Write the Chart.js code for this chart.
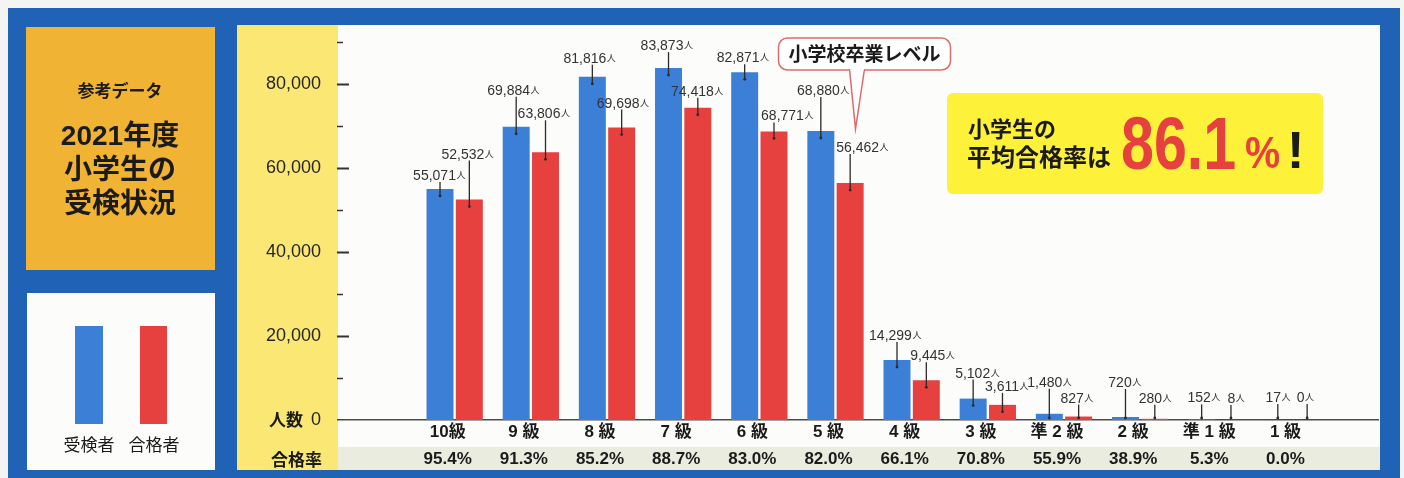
<!DOCTYPE html>
<html lang="ja">
<head>
<meta charset="utf-8">
<title>2021年度 小学生の受検状況</title>
<script src="https://cdn.jsdelivr.net/npm/chart.js@4.4.1/dist/chart.umd.min.js"></script>
<style>
  html, body { margin: 0; padding: 0; background: #f4f4f2; }
  #wrap { width: 1404px; height: 478px; }
</style>
</head>
<body>
<div id="wrap"><canvas id="chart"></canvas></div>
<script>
// --- データ ---
const grades = ['10級', '9 級', '8 級', '7 級', '6 級', '5 級', '4 級', '3 級', '準 2 級', '2 級', '準 1 級', '1 級'];
const examinees = [55071, 69884, 81816, 83873, 82871, 68880, 14299, 5102, 1480, 720, 152, 17];
const passed = [52532, 63806, 69698, 74418, 68771, 56462, 9445, 3611, 827, 280, 8, 0];
const passRates = [95.4, 91.3, 85.2, 88.7, 83.0, 82.0, 66.1, 70.8, 55.9, 38.9, 5.3, 0.0];
const yTickValues = [0, 10000, 20000, 30000, 40000, 50000, 60000, 70000, 80000, 90000];
const averageRate = 86.1;

// 数値ラベルの配置 (棒の上端からの高さ px / 横ずれ px)
const blueLabelLift = [9, 32, 14, 18, 10, 36, 20, 21, 27, 30, 17, 18];
const blueLabelShift = [-1, -3, -3, -2, -2, 2, -2, 4, 0, -1, 2, 0];
const redLabelLift = [41, 34, 20, 12, 11, 31, 20, 14, 14, 16, 17, 18];
const redLabelShift = [-2, -2, 1, -1, 13, 12, 6, 4, -2, 0, 5, -2];

const FONT = "'Liberation Sans', 'Noto Sans CJK JP', sans-serif";
const JP = "'Noto Sans CJK JP', sans-serif";
const BLUE = '#3c7fd6';
const RED = '#e6403f';
const FRAME = '#1f62b6';

// 背景・枠・左側パネル
const backdrop = {
    id: 'backdrop',
    beforeDraw(chart) {
        const { ctx, chartArea: area } = chart;
        ctx.save();
        ctx.fillStyle = '#f4f4f2';
        ctx.fillRect(0, 0, chart.width, chart.height);
        ctx.fillStyle = FRAME;
        ctx.fillRect(8, 8, 1392, 470);
        // 参考データ
        ctx.fillStyle = '#f1b334';
        ctx.fillRect(26, 27, 189, 243);
        // 凡例
        ctx.fillStyle = '#fcfcfa';
        ctx.fillRect(27, 293, 188, 177);
        // グラフ面
        ctx.fillRect(237, 25, 1143, 445);
        ctx.fillStyle = '#fbe874';
        ctx.fillRect(237, 25, area.left - 237, 445);
        ctx.fillStyle = '#e9ecdf';
        ctx.fillRect(area.left, 447, 1380 - area.left, 23);

        ctx.fillStyle = '#1b1b1b';
        ctx.textAlign = 'center';
        ctx.textBaseline = 'middle';
        ctx.font = `bold 17px ${JP}`;
        ctx.fillText('参考データ', 120, 91);
        ctx.font = `bold 28px ${FONT}`;
        ctx.fillText('2021年度', 120, 137);
        ctx.fillText('小学生の', 120, 171);
        ctx.fillText('受検状況', 120, 205);

        // 凡例
        ctx.fillStyle = BLUE;
        ctx.fillRect(75, 326, 28, 98);
        ctx.fillStyle = RED;
        ctx.fillRect(140, 326, 27, 98);
        ctx.fillStyle = '#1b1b1b';
        ctx.font = `17px ${JP}`;
        ctx.fillText(chart.data.datasets[0].label, 89, 445);
        ctx.fillText(chart.data.datasets[1].label, 154, 445);
        ctx.restore();
    }
};

// 目盛り・数値ラベル・吹き出し
const notes = {
    id: 'notes',
    afterDatasetsDraw(chart) {
        const { ctx, scales: { x, y } } = chart;
        const base = y.getPixelForValue(0);
        ctx.save();

        // y 軸の目盛り線
        ctx.strokeStyle = '#333';
        y.ticks.forEach(t => {
            if (t.value <= 0) return;
            const py = Math.round(y.getPixelForValue(t.value)) + 0.5;
            const major = t.value % 20000 === 0;
            ctx.lineWidth = major ? 2 : 1.5;
            ctx.beginPath();
            ctx.moveTo(chart.chartArea.left - 1, py);
            ctx.lineTo(chart.chartArea.left + (major ? 11 : 5), py);
            ctx.stroke();
        });

        ctx.fillStyle = '#1b1b1b';
        ctx.textAlign = 'right';
        ctx.textBaseline = 'middle';
        ctx.font = `bold 17px ${JP}`;
        ctx.fillText('人数', 303, base);
        ctx.fillText('合格率', 322, 460);

        // 数値ラベル
        const layouts = [[blueLabelLift, blueLabelShift], [redLabelLift, redLabelShift]];
        const numFont = `14px ${FONT}`;
        const unitFont = `9px ${JP}`;
        chart.data.datasets.forEach((ds, d) => {
            const [lift, shift] = layouts[d];
            chart.getDatasetMeta(d).data.forEach((bar, i) => {
                const top = bar.y;
                const textY = top - lift[i];
                const end = Math.min(top + 7, base - 2);
                ctx.strokeStyle = '#2a2a2a';
                ctx.lineWidth = 1.3;
                ctx.beginPath();
                ctx.moveTo(bar.x, textY + 2);
                ctx.lineTo(bar.x, end);
                ctx.stroke();
                ctx.fillStyle = '#2a2a2a';
                ctx.beginPath();
                ctx.arc(bar.x, end, 1.4, 0, Math.PI * 2);
                ctx.fill();

                const num = ds.data[i].y.toLocaleString('en-US');
                ctx.font = numFont;
                const w1 = ctx.measureText(num).width;
                ctx.font = unitFont;
                const w2 = ctx.measureText('人').width;
                const sx = bar.x + shift[i] - (w1 + w2) / 2;
                ctx.fillStyle = '#333';
                ctx.textAlign = 'left';
                ctx.textBaseline = 'alphabetic';
                ctx.font = numFont;
                ctx.fillText(num, sx, textY);
                ctx.font = unitFont;
                ctx.fillText('人', sx + w1 + 0.5, textY - 2);
            });
        });

        // 小学校卒業レベル
        const cx = x.getPixelForValue(5) + 29;
        ctx.fillStyle = '#fff';
        ctx.strokeStyle = '#de6b6b';
        ctx.lineWidth = 1.5;
        ctx.beginPath();
        ctx.roundRect(cx - 86, 38, 172, 32, 9);
        ctx.fill();
        ctx.stroke();
        ctx.beginPath();
        ctx.moveTo(cx - 15, 69);
        ctx.lineTo(cx - 9, 129);
        ctx.lineTo(cx, 69);
        ctx.fill();
        ctx.stroke();
        ctx.fillRect(cx - 14, 66, 13, 5);
        ctx.fillStyle = '#1b1b1b';
        ctx.textAlign = 'center';
        ctx.textBaseline = 'middle';
        ctx.font = `bold 19px ${JP}`;
        ctx.fillText('小学校卒業レベル', cx, 54);

        // 平均合格率
        ctx.fillStyle = '#fdf13a';
        ctx.beginPath();
        ctx.roundRect(947, 93, 376, 101, 6);
        ctx.fill();
        ctx.fillStyle = '#1b1b1b';
        ctx.textAlign = 'left';
        ctx.font = `bold 22px ${JP}`;
        ctx.fillText('小学生の', 968, 129);
        ctx.font = `bold 24px ${JP}`;
        ctx.fillText('平均合格率は', 967, 157);

        ctx.textBaseline = 'alphabetic';
        ctx.fillStyle = RED;
        ctx.save();
        ctx.translate(1121, 169);
        ctx.scale(0.8, 1);
        ctx.font = `bold 74px ${FONT}`;
        ctx.fillText(averageRate.toFixed(1), 0, 0);
        ctx.restore();
        ctx.save();
        ctx.translate(1245, 168);
        ctx.scale(0.9, 1);
        ctx.font = `bold 44px ${FONT}`;
        ctx.fillText('%', 0, 0);
        ctx.restore();
        ctx.fillStyle = '#1b1b1b';
        ctx.font = `bold 52px ${FONT}`;
        ctx.fillText('!', 1287, 168);

        ctx.restore();
    }
};

new Chart(document.getElementById('chart'), {
    type: 'bar',
    data: {
        datasets: [{
            label: '受検者',
            data: examinees.map((v, i) => ({ x: i, y: v })),
            backgroundColor: BLUE
        }, {
            label: '合格者',
            data: passed.map((v, i) => ({ x: i, y: v })),
            backgroundColor: RED
        }]
    },
    options: {
        responsive: true,
        maintainAspectRatio: false,
        animation: false,
        categoryPercentage: 0.77,
        barPercentage: 0.92,
        layout: { padding: { left: 0, right: 26, top: 34, bottom: 0 } },
        scales: {
            x: {
                type: 'linear',
                bounds: 'data',
                min: -0.963,
                max: 11.554,
                grid: { display: false, drawTicks: false },
                border: { display: true, color: '#4a4a4a', width: 1.5 },
                afterBuildTicks: (s) => { s.ticks = grades.map((g, i) => ({ value: i })); },
                afterFit: (s) => { s.height = 58; },
                ticks: {
                    autoSkip: false,
                    maxRotation: 0,
                    padding: -1,
                    labelOffset: -7,
                    color: '#1b1b1b',
                    font: { family: FONT, size: 17, weight: 'bold', lineHeight: '27px' },
                    callback: (v) => [grades[v], passRates[v].toFixed(1) + '%']
                }
            },
            y: {
                min: 0,
                max: 92000,
                grid: { display: false, drawTicks: false },
                border: { display: false },
                afterBuildTicks: (s) => { s.ticks = yTickValues.map(v => ({ value: v })); },
                afterFit: (s) => { s.width = 338; },
                ticks: {
                    autoSkip: false,
                    padding: 17,
                    color: '#262626',
                    font: { family: FONT, size: 18 },
                    callback: (v) => (v % 20000 === 0 && v <= 80000) ? v.toLocaleString('en-US') : ''
                }
            }
        },
        plugins: {
            legend: { display: false },
            tooltip: { enabled: false }
        }
    },
    plugins: [backdrop, notes]
});
</script>
</body>
</html>
